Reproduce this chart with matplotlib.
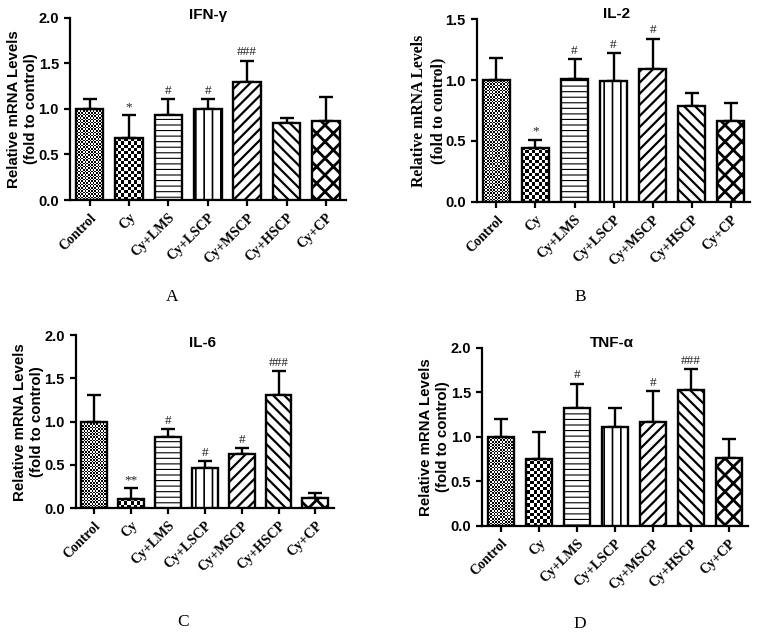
import numpy as np
import matplotlib
matplotlib.use('Agg')
import matplotlib.pyplot as plt

groups = ['Control', 'Cy', 'Cy+LMS', 'Cy+LSCP', 'Cy+MSCP', 'Cy+HSCP', 'Cy+CP']

ifn_mean = [1.00, 0.68, 0.93, 1.00, 1.29, 0.84, 0.87]
ifn_err = [0.11, 0.25, 0.18, 0.11, 0.24, 0.06, 0.26]
ifn_sig = ['', '*', '#', '#', '###', '', '']

il2_mean = [1.00, 0.445, 1.005, 0.99, 1.09, 0.79, 0.66]
il2_err = [0.18, 0.065, 0.165, 0.23, 0.25, 0.10, 0.15]
il2_sig = ['', '*', '#', '#', '#', '', '']

il6_mean = [1.00, 0.11, 0.82, 0.46, 0.62, 1.31, 0.12]
il6_err = [0.31, 0.12, 0.09, 0.08, 0.07, 0.28, 0.05]
il6_sig = ['', '**', '#', '#', '#', '###', '']

tnf_mean = [1.00, 0.75, 1.33, 1.11, 1.17, 1.53, 0.76]
tnf_err = [0.20, 0.30, 0.27, 0.22, 0.35, 0.23, 0.22]
tnf_sig = ['', '', '#', '', '#', '###', '']

hatches = [None, None, '---', '||', '///', '\\\\\\', 'xx']
hatch_lw = [1, 1, 0.8, 1.2, 1.6, 1.6, 2.0]
checker_cell = [1.6, 3.2, 0, 0, 0, 0, 0]

plt.rcParams['hatch.linewidth'] = 1.4
sans = 'Liberation Sans'
serif = 'Liberation Serif'

fig = plt.figure(figsize=(7.57, 6.35), dpi=100)


def panel(rect, title, title_xy, mean, err, sig, ymax, letter, letter_xy,
          ylab_font, ylab_size, ylab_pad):
    ax = fig.add_axes(rect)
    x = np.arange(len(groups))
    bars = ax.bar(x, mean, width=0.7, color='white', edgecolor='black',
                  linewidth=1.7, zorder=3)
    ax.set_xlim(-0.5, 6.5)
    ax.set_ylim(0, ymax)
    fig.canvas.draw()
    bb = ax.get_window_extent()
    for i, b in enumerate(bars):
        if hatches[i]:
            b.set_hatch(hatches[i])
            if hasattr(b, 'set_hatch_linewidth'):
                b.set_hatch_linewidth(hatch_lw[i])
        if checker_cell[i]:
            b.set_facecolor('none')
            c = checker_cell[i]
            nx = int(bb.width / c)
            ny = int(bb.height / c)
            img = np.indices((ny, nx)).sum(axis=0) % 2
            im = ax.imshow(img, cmap='gray', extent=(0, 1, 0, 1),
                           transform=ax.transAxes, interpolation='nearest',
                           aspect='auto', zorder=2)
            im.set_clip_path(b)
    ax.set_xlim(-0.5, 6.5)
    ax.set_ylim(0, ymax)
    ax.errorbar(x, mean, yerr=[np.zeros(len(err)), err], fmt='none',
                ecolor='black', elinewidth=1.7, capsize=5, capthick=1.7,
                zorder=2.5)
    for i in range(len(groups)):
        if sig[i]:
            ax.text(x[i], mean[i] + err[i] + ymax * 0.012, sig[i],
                    ha='center', va='bottom', fontsize=9.5, family=serif,
                    color='#222222')
    for s in ['top', 'right']:
        ax.spines[s].set_visible(False)
    for s in ['left', 'bottom']:
        ax.spines[s].set_linewidth(1.6)
    ticks = np.arange(0, ymax + 0.01, 0.5)
    ax.set_yticks(ticks)
    ax.set_yticklabels(['%.1f' % v for v in ticks],
                       fontsize=10.5, fontweight='bold', family=sans)
    ax.set_xticks(x)
    ax.set_xticklabels(groups, rotation=45, ha='right', rotation_mode='anchor',
                       fontsize=10, fontweight='bold', family=serif)
    ax.tick_params(width=1.6, length=4.5)
    ax.set_ylabel('Relative mRNA Levels\n(fold to control)', fontsize=ylab_size,
                  fontweight='bold', family=ylab_font, labelpad=ylab_pad,
                  linespacing=1.3)
    fig.text(title_xy[0] / 757, 1 - title_xy[1] / 635, title, ha='center',
             va='center', fontsize=11, fontweight='bold', family=sans)
    fig.text(letter_xy[0] / 757, 1 - letter_xy[1] / 635, letter,
             ha='center', va='center', fontsize=12.5, family=serif)
    return ax


panel([0.0925, 0.685, 0.364, 0.287], 'IFN-\u03b3', (208, 15), ifn_mean,
      ifn_err, ifn_sig, 2.0, 'A', (172, 297), sans, 10.8, 0)
panel([0.630, 0.682, 0.361, 0.288], 'IL-2', (617, 14), il2_mean, il2_err,
      il2_sig, 1.5, 'B', (580, 297), serif, 11.3, -1)
panel([0.100, 0.200, 0.341, 0.272], 'IL-6', (203, 343), il6_mean, il6_err,
      il6_sig, 2.0, 'C', (183, 622), sans, 10.8, 0)
panel([0.637, 0.172, 0.351, 0.280], 'TNF-\u03b1', (612, 343), tnf_mean,
      tnf_err, tnf_sig, 2.0, 'D', (580, 624), sans, 10.8, 0)

fig.savefig('out.png', dpi=100)
